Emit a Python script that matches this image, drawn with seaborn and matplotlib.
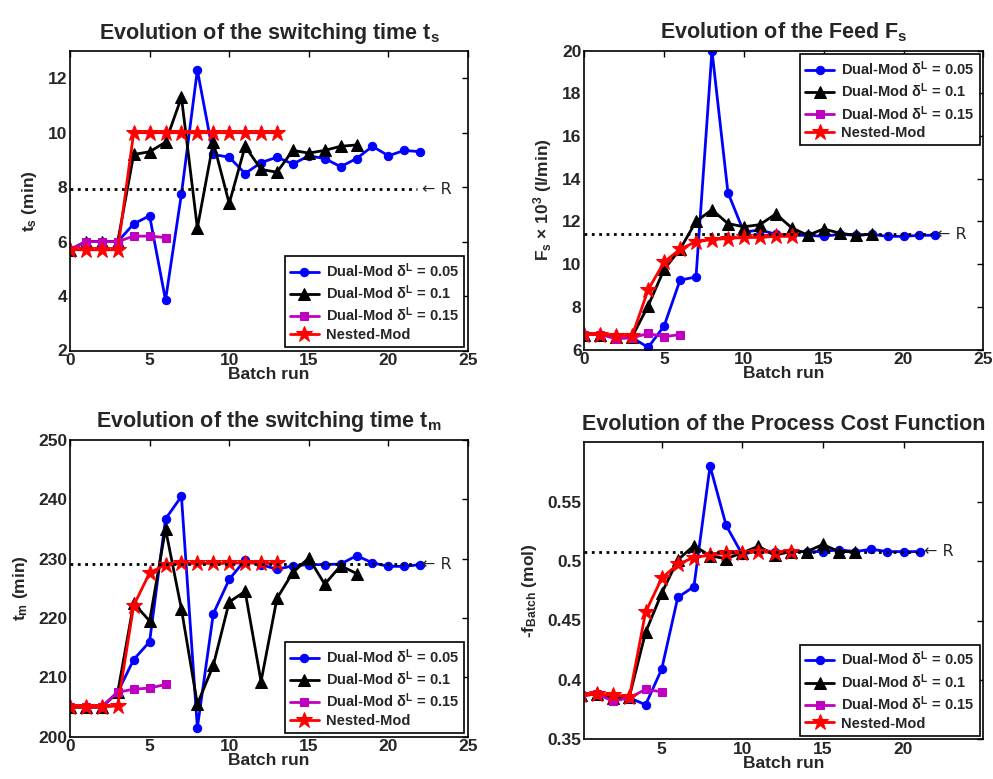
import numpy as np
import pandas as pd
import matplotlib
matplotlib.use("Agg")
import matplotlib.pyplot as plt
from matplotlib.ticker import FixedLocator, FuncFormatter
import seaborn as sns

# ---------------- data ----------------
# Switching time t_s
ts_dual005 = [5.7, 6.0, 6.0, 6.0, 6.65, 6.95, 3.85, 7.75, 12.3, 9.2, 9.1, 8.5, 8.9, 9.1,
              8.85, 9.15, 9.05, 8.75, 9.05, 9.5, 9.15, 9.35, 9.3]
ts_dual01 = [5.7, 6.0, 6.0, 6.0, 9.2, 9.3, 9.65, 11.3, 6.5, 9.65, 7.4, 9.5, 8.65, 8.55,
             9.35, 9.25, 9.35, 9.5, 9.55]
ts_dual015 = [5.7, 6.0, 6.0, 6.0, 6.2, 6.2, 6.15]
ts_nested = [5.7, 5.7, 5.7, 5.7, 10, 10, 10, 10, 10, 10, 10, 10, 10, 10]
ts_ref = 7.93

# Feed F_s x 10^3
fs_dual005 = [6.7, 6.7, 6.6, 6.55, 6.1, 7.1, 9.25, 9.4, 20.0, 13.35, 11.5, 11.6, 11.4, 11.35,
              11.35, 11.3, 11.4, 11.35, 11.4, 11.3, 11.3, 11.35, 11.35]
fs_dual01 = [6.7, 6.7, 6.6, 6.6, 8.05, 9.75, 10.7, 12.0, 12.55, 11.9, 11.75, 11.85, 12.35,
             11.7, 11.35, 11.65, 11.45, 11.35, 11.4]
fs_dual015 = [6.7, 6.7, 6.5, 6.55, 6.75, 6.6, 6.7]
fs_nested = [6.7, 6.7, 6.65, 6.65, 8.8, 10.1, 10.7, 11.05, 11.15, 11.2, 11.25, 11.25, 11.3, 11.3]
fs_ref = 11.4

# Switching time t_m
tm_dual005 = [205, 205, 205, 207.5, 213, 216, 236.7, 240.5, 201.5, 220.7, 226.5, 229.8, 229.0,
              228.2, 228.8, 229.0, 229.0, 229.1, 230.5, 229.3, 228.7, 228.7, 229.0]
tm_dual01 = [205, 205, 205, 207.5, 222.5, 219.5, 235, 221.5, 205.5, 212, 222.7, 224.5, 209.3,
             223.3, 227.7, 230.1, 225.7, 228.8, 227.5]
tm_dual015 = [205, 205, 205, 207.5, 208, 208.2, 208.8]
tm_nested = [205, 205, 205, 205.2, 222.1, 227.6, 229.0, 229.2, 229.2, 229.2, 229.2, 229.3, 229.2, 229.2]
tm_ref = 229.1

# Process cost function -f_Batch
cf_dual005 = [0.387, 0.388, 0.385, 0.385, 0.379, 0.409, 0.4695, 0.4785, 0.58, 0.53, 0.5055,
              0.509, 0.508, 0.508, 0.508, 0.508, 0.5095, 0.508, 0.51, 0.508, 0.508, 0.508]
cf_dual01 = [0.387, 0.388, 0.385, 0.386, 0.44, 0.473, 0.501, 0.513, 0.5045, 0.502, 0.507,
             0.5125, 0.505, 0.508, 0.508, 0.514, 0.508, 0.508]
cf_dual015 = [0.387, 0.388, 0.382, 0.385, 0.392, 0.39]
cf_nested = [0.387, 0.388, 0.387, 0.386, 0.457, 0.4855, 0.4975, 0.503, 0.505, 0.5065, 0.507,
             0.508, 0.507, 0.508]
cf_ref = 0.508

labels = [r"Dual-Mod δ$^{\mathbf{L}}$ = 0.05", r"Dual-Mod δ$^{\mathbf{L}}$ = 0.1",
          r"Dual-Mod δ$^{\mathbf{L}}$ = 0.15", "Nested-Mod"]
titles = [r"Evolution of the switching time t$_{\mathbf{s}}$",
          r"Evolution of the Feed F$_{\mathbf{s}}$",
          r"Evolution of the switching time t$_{\mathbf{m}}$",
          "Evolution of the Process Cost Function"]
ylabels = [r"t$_{\mathbf{s}}$ (min)", r"F$_{\mathbf{s}}$ × 10$^{\mathbf{3}}$ (l/min)",
           r"t$_{\mathbf{m}}$ (min)", r"-f$_{\mathbf{Batch}}$ (mol)"]
xlabel = "Batch run"

# ---------------- style ----------------
sns.set_style("white")
plt.rcParams["font.family"] = ["Liberation Sans", "DejaVu Sans"]
plt.rcParams["font.weight"] = "bold"
plt.rcParams["mathtext.fontset"] = "custom"
plt.rcParams["mathtext.rm"] = "Liberation Sans:bold"
plt.rcParams["mathtext.bf"] = "Liberation Sans:bold"
plt.rcParams["mathtext.it"] = "Liberation Sans:bold"
plt.rcParams["mathtext.sf"] = "Liberation Sans:bold"

colors = ["#0000ff", "#000000", "#c000c0", "#ff0000"]
markers = ["o", "^", "s", "*"]
msizes = [6, 8, 6, 12]

W, H = 993, 779
fig = plt.figure(figsize=(W / 100, H / 100), dpi=100)

def box(l, t, r, b):
    return [l / W, 1 - b / H, (r - l) / W, (b - t) / H]

axes_pos = [box(70, 51, 468, 350.5), box(584.3, 50.7, 983.3, 349.5),
            box(70, 440, 468, 736.7), box(584.3, 442.3, 983.3, 739.3)]

panels = [
    (ts_dual005, ts_dual01, ts_dual015, ts_nested, ts_ref, (2, 13), np.arange(2, 13, 2), (0, 25), np.arange(0, 26, 5), "lower right", 21.8),
    (fs_dual005, fs_dual01, fs_dual015, fs_nested, fs_ref, (6, 20), np.arange(6, 21, 2), (0, 25), np.arange(0, 26, 5), "upper right", 21.8),
    (tm_dual005, tm_dual01, tm_dual015, tm_nested, tm_ref, (200, 250), np.arange(200, 251, 10), (0, 25), np.arange(0, 26, 5), "lower right", 21.8),
    (cf_dual005, cf_dual01, cf_dual015, cf_nested, cf_ref, (0.35, 0.6), [0.35, 0.4, 0.45, 0.5, 0.55], (0.2, 24.95), [5, 10, 15, 20], "lower right", 21.0),
]

for i, (d1, d2, d3, d4, ref, ylim, yt, xlim, xt, loc, refend) in enumerate(panels):
    ax = fig.add_axes(axes_pos[i])
    series = [d1, d2, d3, d4]
    for s, lab, c, m, ms in zip(series, labels, colors, markers, msizes):
        x = np.arange(len(s))
        sns.lineplot(x=x, y=s, ax=ax, color=c, marker=m, markersize=ms, lw=2,
                     markeredgecolor=c, markerfacecolor=c, label=lab, sort=False)
    # reference line
    x0 = xlim[0]
    sns.lineplot(x=[x0, refend], y=[ref, ref], ax=ax, color="black", lw=2,
                 linestyle=":", legend=False)
    ax.text(refend + 0.3, ref, "← R", va="center", ha="left", fontsize=11.5,
            fontweight="normal", family="DejaVu Sans")
    ax.set_xlim(*xlim)
    ax.set_ylim(*ylim)
    ax.xaxis.set_major_locator(FixedLocator(xt))
    ax.yaxis.set_major_locator(FixedLocator(yt))
    ax.yaxis.set_major_formatter(FuncFormatter(lambda v, p: f"{v:g}"))
    ax.tick_params(direction="in", length=4, width=1, top=True, right=True,
                   labelsize=12.5, pad=2, color="black")
    for lab in ax.get_xticklabels() + ax.get_yticklabels():
        lab.set_fontweight("bold")
    for sp in ax.spines.values():
        sp.set_color("black")
        sp.set_linewidth(1.2)
    ax.set_title(titles[i], fontsize=15.5, fontweight="bold", pad=9)
    ax.set_xlabel(xlabel, fontsize=12.5, fontweight="bold", labelpad=-1)
    ax.set_ylabel(ylabels[i], fontsize=12.5, fontweight="bold", labelpad=6)
    leg = ax.legend(loc=loc, fontsize=10.5, frameon=True, fancybox=False,
                    edgecolor="black", framealpha=1, borderaxespad=0.25,
                    handlelength=2.0, handletextpad=0.5, labelspacing=0.25,
                    borderpad=0.35)
    leg.get_frame().set_linewidth(1.2)
    for t in leg.get_texts():
        t.set_fontweight("bold")

fig.savefig("out.png", dpi=100)
